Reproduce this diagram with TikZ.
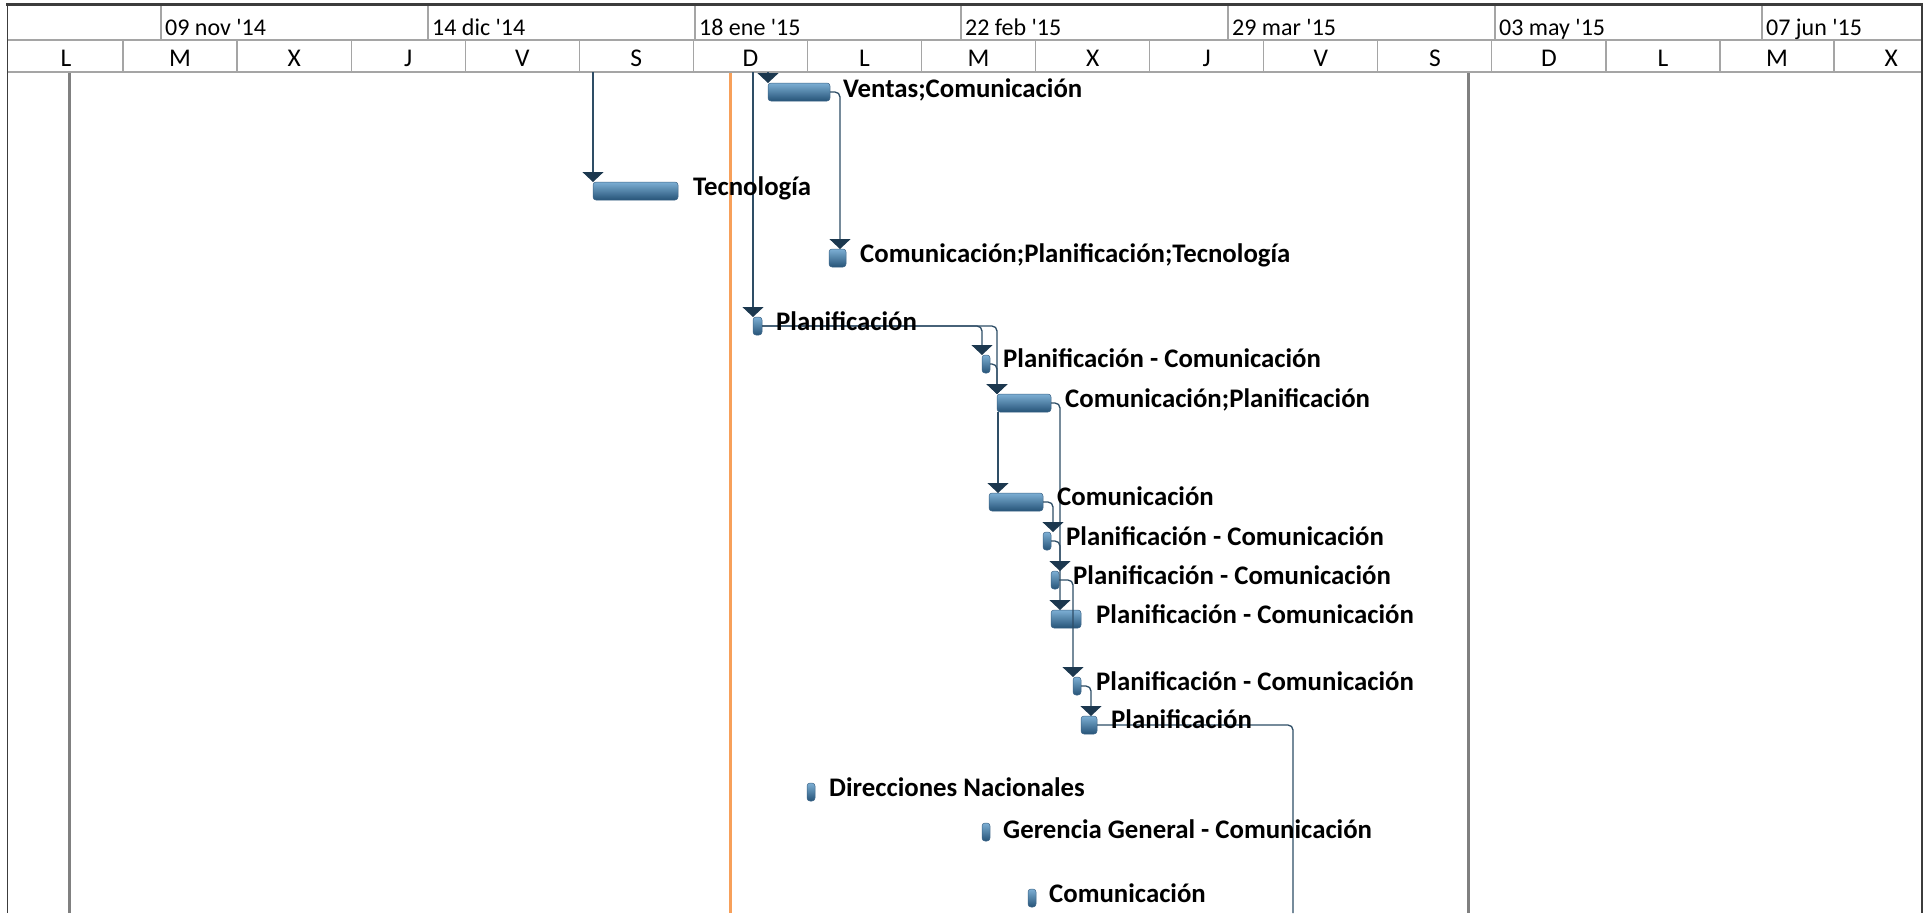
\documentclass[tikz,border=0pt]{standalone}
\usepackage{fontspec}
\setmainfont{Carlito}
\newfontfamily\hdrfont{Carlito}[Ligatures=ResetAll]
\usetikzlibrary{arrows.meta}
\definecolor{gridC}{RGB}{165,165,165}
\definecolor{frameC}{RGB}{60,60,60}
\definecolor{orangeC}{RGB}{247,160,90}
\definecolor{greyLine}{RGB}{128,128,128}
\definecolor{connC}{RGB}{46,77,102}
\definecolor{triC}{RGB}{28,56,79}
\definecolor{barTop}{RGB}{125,175,212}
\definecolor{barBot}{RGB}{38,84,120}
\definecolor{barEdge}{RGB}{60,100,135}
\begin{document}
\begin{tikzpicture}[x=1pt,y=-1pt,
  bar/.style={rectangle, rounded corners=3pt, top color=barTop, bottom color=barBot, draw=barEdge, line width=0.5pt, inner sep=0pt, outer sep=0pt, minimum height=18pt, anchor=north west},
  lbl/.style={anchor=base west, inner sep=0pt, font=\fontsize{26.8}{30}\selectfont\bfseries},
  datelbl/.style={anchor=base west, inner sep=0pt, font=\hdrfont\fontsize{24}{28}\selectfont},
  daylbl/.style={anchor=base, inner sep=0pt, font=\hdrfont\fontsize{25.5}{30}\selectfont},
  conn/.style={draw=connC, line width=1.3pt, rounded corners=5pt},
  arr/.style={-{Triangle[width=21pt,length=10pt,color=triC]}},
  hgrid/.style={draw=gridC, line width=1.2pt},
]
\useasboundingbox (0,0) rectangle (1927,913);
\fill[white] (0,0) rectangle (1927,913);

% body vertical lines
\draw[greyLine, line width=3pt] (69,72) -- (69,913);
\draw[greyLine, line width=3pt] (1468,72) -- (1468,913);
\draw[orangeC, line width=3pt] (730,72) -- (730,913);

% header grid
\draw[hgrid] (7,40) -- (1922,40);
\draw[hgrid] (7,72) -- (1922,72);
\foreach \x in {161,428,695,961,1228,1495,1762} \draw[hgrid] (\x,5) -- (\x,40);
\foreach \k in {0,...,15} \draw[hgrid] ({123+114.07*\k},40) -- ({123+114.07*\k},72);
\draw[frameC, line width=2.5pt] (6,4.5) -- (1923,4.5);
\draw[frameC, line width=1.5pt] (7.5,4) -- (7.5,913);
\draw[frameC, line width=1.5pt] (1922,4) -- (1922,913);

% date labels
\node[datelbl] (date1) at (165,35) {09 nov '14};
\node[datelbl] (date2) at (432,35) {14 dic '14};
\node[datelbl] (date3) at (699,35) {18 ene '15};
\node[datelbl] (date4) at (965,35) {22 feb '15};
\node[datelbl] (date5) at (1232,35) {29 mar '15};
\node[datelbl] (date6) at (1499,35) {03 may '15};
\node[datelbl] (date7) at (1766,35) {07 jun '15};
% day labels
\foreach \l [count=\i from 0] in {L,M,X,J,V,S,D,L,M,X,J,V,S,D,L,M,X}
  \node[daylbl] (day\i) at ({66+114.07*\i},66) {\l};

% bars
\node[bar, minimum width=62pt] (b1) at (768,83) {};
\node[bar, minimum width=85pt] (b2) at (593,182) {};
\node[bar, minimum width=17pt] (b3) at (829,249) {};
\node[bar, minimum width=9pt] (b4) at (753,317) {};
\node[bar, minimum width=8pt] (b5) at (982,355) {};
\node[bar, minimum width=54pt] (b6) at (997,394) {};
\node[bar, minimum width=54pt] (b7) at (989,493) {};
\node[bar, minimum width=8pt] (b8) at (1043,532) {};
\node[bar, minimum width=8pt] (b9) at (1051,571) {};
\node[bar, minimum width=30pt] (b10) at (1051,610) {};
\node[bar, minimum width=8pt] (b11) at (1073,677) {};
\node[bar, minimum width=16pt] (b12) at (1081,716) {};
\node[bar, minimum width=8pt] (b13) at (807,783) {};
\node[bar, minimum width=8pt] (b14) at (982,823) {};
\node[bar, minimum width=8pt] (b15) at (1028,889) {};

% connectors
\coordinate (t0) at (768,72);
\coordinate (t1) at (593,72);
\coordinate (t2) at (753,72);
\coordinate (k3) at (840,0);
\coordinate (k7) at (998,0);
\coordinate (k8) at (1060,0);
\coordinate (k9) at (1053,0);
\coordinate (k11) at (1073,0);
\coordinate (k12) at (1091,0);
\coordinate (e13) at (1293,913);

\draw[conn,arr] (t0) -- (t0 |- b1.north);
\draw[conn,arr] (t1) -- (t1 |- b2.north);
\draw[conn,arr] (t2) -- (t2 |- b4.north);
\draw[conn,arr] (b1.east) -| (k3 |- b3.north);
\draw[conn,arr] (b4.east) -| (b5.north west);
\draw[conn,arr] (b4.east) -| (b6.north west);
\draw[conn,arr] (b5.east) -| (b6.north west);
\draw[conn,arr] (k7 |- b6.south) -- (k7 |- b7.north);
\draw[conn,arr] (b6.east) -| (k8 |- b10.north);
\draw[conn,arr] (b7.east) -| (k9 |- b8.north);
\draw[conn,arr] (b8.east) -| (k8 |- b9.north);
\draw[conn,arr] (b9.east) -| (k11 |- b11.north);
\draw[conn,arr] (b11.east) -| (k12 |- b12.north);
\draw[conn] (b12.east) -| (e13);

% labels
\node[lbl] (l1) at (843,97) {Ventas;Comunicación};
\node[lbl] (l2) at (693,195) {Tecnología};
\node[lbl] (l3) at (860,262) {Comunicación;Planificación;Tecnología};
\node[lbl] (l4) at (776,330) {Planificación};
\node[lbl] (l5) at (1003,367) {Planificación - Comunicación};
\node[lbl] (l6) at (1065,407) {Comunicación;Planificación};
\node[lbl] (l7) at (1057,505) {Comunicación};
\node[lbl] (l8) at (1066,545) {Planificación - Comunicación};
\node[lbl] (l9) at (1073,584) {Planificación - Comunicación};
\node[lbl] (l10) at (1096,623) {Planificación - Comunicación};
\node[lbl] (l11) at (1096,690) {Planificación - Comunicación};
\node[lbl] (l12) at (1111,728) {Planificación};
\node[lbl] (l13) at (829,796) {Direcciones Nacionales};
\node[lbl] (l14) at (1003,838) {Gerencia General - Comunicación};
\node[lbl] (l15) at (1049,902) {Comunicación};
\end{tikzpicture}
\end{document}
